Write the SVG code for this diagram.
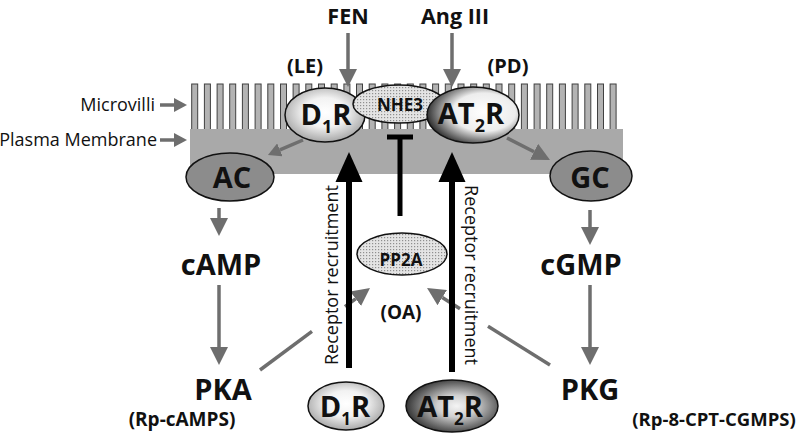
<svg xmlns="http://www.w3.org/2000/svg" width="800" height="438" viewBox="0 0 800 438">
<style>
text{font-family:"Open Sans","Liberation Sans",sans-serif;fill:#111}
.b{font-weight:bold}
.lab{font-size:18px}
.big{font-size:29px;font-weight:bold}
.ga{stroke:#6e6e6e;stroke-width:3.5;fill:none}
.bk{stroke:#000;stroke-width:6;fill:none}
.vil{fill:#b3b3b3;stroke:#404040;stroke-width:1}
.el{stroke:#111;stroke-width:1.5}
</style>
<defs>
<marker id="g" viewBox="0 -9 18 18" refX="0" refY="0" markerWidth="18" markerHeight="18" markerUnits="userSpaceOnUse" orient="auto"><path d="M0,-9 L18,0 L0,9 z" fill="#6e6e6e"/></marker>
<marker id="gs" viewBox="0 -7 13 14" refX="0" refY="0" markerWidth="13" markerHeight="14" markerUnits="userSpaceOnUse" orient="auto"><path d="M0,-7 L13,0 L0,7 z" fill="#6e6e6e"/></marker>
<marker id="bh" viewBox="0 -14 30 28" refX="0" refY="0" markerWidth="30" markerHeight="28" markerUnits="userSpaceOnUse" orient="auto"><path d="M0,-13.5 L30,0 L0,13.5 z" fill="#000"/></marker>
<pattern id="dots" width="3" height="3" patternUnits="userSpaceOnUse"><rect width="3" height="3" fill="#e4e4e4"/><rect x="0" y="0" width="1.2" height="1.2" fill="#8f8f8f"/></pattern>
<radialGradient id="gd1" cx="0.5" cy="0.45" r="0.6"><stop offset="0" stop-color="#fff"/><stop offset="0.45" stop-color="#f2f2f2"/><stop offset="1" stop-color="#9a9a9a"/></radialGradient>
<radialGradient id="gat" cx="0.62" cy="0.45" r="0.62"><stop offset="0" stop-color="#fff"/><stop offset="0.55" stop-color="#ededed"/><stop offset="1" stop-color="#333"/></radialGradient>
<radialGradient id="gat2" cx="0.55" cy="0.5" r="0.6"><stop offset="0" stop-color="#f4f4f4"/><stop offset="0.35" stop-color="#cfcfcf"/><stop offset="1" stop-color="#1e1e1e"/></radialGradient>
</defs>

<g id="labels-top">
<text x="348" y="24" class="b" font-size="21.5" text-anchor="middle">FEN</text>
<text x="455" y="24" class="b" font-size="21.5" text-anchor="middle">Ang III</text>
<text x="305" y="73" class="b" font-size="20" text-anchor="middle">(LE)</text>
<text x="508" y="73" class="b" font-size="20" text-anchor="middle">(PD)</text>
<text x="155" y="111" class="lab" text-anchor="end">Microvilli</text>
<text x="157" y="146" class="lab" text-anchor="end">Plasma Membrane</text>
</g>

<g id="microvilli">
<rect class="vil" x="191.7" y="84" width="6" height="46"/><rect class="vil" x="204.4" y="84" width="6" height="46"/><rect class="vil" x="217.1" y="84" width="6" height="46"/><rect class="vil" x="229.7" y="84" width="6" height="46"/><rect class="vil" x="242.4" y="84" width="6" height="46"/><rect class="vil" x="255.1" y="84" width="6" height="46"/><rect class="vil" x="267.8" y="84" width="6" height="46"/><rect class="vil" x="280.5" y="84" width="6" height="46"/><rect class="vil" x="293.1" y="84" width="6" height="46"/><rect class="vil" x="305.8" y="84" width="6" height="46"/><rect class="vil" x="318.5" y="84" width="6" height="46"/><rect class="vil" x="331.2" y="84" width="6" height="46"/><rect class="vil" x="343.9" y="84" width="6" height="46"/><rect class="vil" x="356.5" y="84" width="6" height="46"/><rect class="vil" x="369.2" y="84" width="6" height="46"/><rect class="vil" x="381.9" y="84" width="6" height="46"/><rect class="vil" x="394.6" y="84" width="6" height="46"/><rect class="vil" x="407.3" y="84" width="6" height="46"/><rect class="vil" x="419.9" y="84" width="6" height="46"/><rect class="vil" x="432.6" y="84" width="6" height="46"/><rect class="vil" x="445.3" y="84" width="6" height="46"/><rect class="vil" x="458" y="84" width="6" height="46"/><rect class="vil" x="470.7" y="84" width="6" height="46"/><rect class="vil" x="483.3" y="84" width="6" height="46"/><rect class="vil" x="496" y="84" width="6" height="46"/><rect class="vil" x="508.7" y="84" width="6" height="46"/><rect class="vil" x="521.4" y="84" width="6" height="46"/><rect class="vil" x="534.1" y="84" width="6" height="46"/><rect class="vil" x="546.7" y="84" width="6" height="46"/><rect class="vil" x="559.4" y="84" width="6" height="46"/><rect class="vil" x="572.1" y="84" width="6" height="46"/><rect class="vil" x="584.8" y="84" width="6" height="46"/><rect class="vil" x="597.5" y="84" width="6" height="46"/><rect class="vil" x="610.1" y="84" width="6" height="46"/>
</g>
<g id="membrane"><rect x="190" y="129" width="433" height="45" fill="#a9a9a9"/></g>

<g id="connectors">
<path class="ga" d="M348,33 V69" marker-end="url(#g)"/>
<path class="ga" d="M452,33 V69" marker-end="url(#g)"/>
<path class="ga" d="M160,105 H174" marker-end="url(#gs)"/>
<path class="ga" d="M160,140 H174" marker-end="url(#gs)"/>
<path class="ga" d="M303,140 L279.9,149.9" marker-end="url(#gs)"/>
<path class="ga" d="M507,138 L534,151.8" marker-end="url(#g)"/>
<path class="ga" d="M219,208 V218" marker-end="url(#g)"/>
<path class="ga" d="M219,285 V347" marker-end="url(#g)"/>
<path class="ga" d="M590,210 V227" marker-end="url(#g)"/>
<path class="ga" d="M590,285 V347" marker-end="url(#g)"/>
<path class="ga" d="M260,370 L312,331.3"/>
<path class="ga" d="M345,306.7 L355.6,298.8" marker-end="url(#g)"/>
<path class="ga" d="M550,365 L488,326.2"/>
<path class="ga" d="M460,308.7 L442.3,297.6" marker-end="url(#g)"/>
<path class="bk" d="M349,368 V182" marker-end="url(#bh)"/>
<path class="bk" d="M452,372 V182" marker-end="url(#bh)"/>
<path d="M400,216 V137 M387,137 H413" stroke="#000" stroke-width="5" fill="none"/>
<text transform="translate(338,365) rotate(-90)" font-size="18">Receptor recruitment</text>
<text transform="translate(465,365) rotate(90)" font-size="18" text-anchor="end">Receptor recruitment</text>
</g>

<g id="D1R-top">
<ellipse class="el" cx="325" cy="115" rx="40" ry="27" fill="url(#gd1)"/>
<text x="326" y="125" class="big" font-size="28" text-anchor="middle">D<tspan font-size="18" dy="8">1</tspan><tspan dy="-8">R</tspan></text>
</g>
<g id="NHE3">
<ellipse class="el" cx="399" cy="104" rx="46" ry="19" fill="url(#dots)"/>
<text x="400" y="111" class="b" font-size="17" text-anchor="middle">NHE3</text>
</g>
<g id="AT2R-top">
<ellipse class="el" cx="473" cy="115" rx="46" ry="28" fill="url(#gat)"/>
<text x="471" y="124" class="big" text-anchor="middle">AT<tspan font-size="18" dy="8">2</tspan><tspan dy="-8">R</tspan></text>
</g>
<g id="AC">
<ellipse class="el" cx="230" cy="177" rx="44" ry="24" fill="#8c8c8c"/>
<text x="232" y="188" class="big" text-anchor="middle">AC</text>
</g>
<g id="GC">
<ellipse class="el" cx="591" cy="176" rx="41" ry="25" fill="#8c8c8c"/>
<text x="590" y="188" class="big" text-anchor="middle">GC</text>
</g>
<g id="cAMP"><text x="221" y="275" class="big" font-size="30" text-anchor="middle">cAMP</text></g>
<g id="cGMP"><text x="581" y="275" class="big" font-size="30" text-anchor="middle">cGMP</text></g>
<g id="PP2A">
<ellipse class="el" cx="402" cy="254" rx="45" ry="21" fill="url(#dots)"/>
<text x="401" y="266" class="b" font-size="17" text-anchor="middle">PP2A</text>
</g>
<g id="OA"><text x="401" y="319" class="b" font-size="19" text-anchor="middle">(OA)</text></g>
<g id="PKA">
<text x="223" y="400" class="big" font-size="31" text-anchor="middle">PKA</text>
<text x="182" y="426" class="b" font-size="19" text-anchor="middle">(Rp-cAMPS)</text>
</g>
<g id="PKG">
<text x="590" y="400" class="big" font-size="30" text-anchor="middle">PKG</text>
<text x="714" y="426" class="b" font-size="18.5" text-anchor="middle">(Rp-8-CPT-CGMPS)</text>
</g>
<g id="D1R-bottom">
<ellipse class="el" cx="346" cy="406" rx="38" ry="24" fill="url(#gd1)"/>
<text x="345" y="417" class="big" font-size="27" text-anchor="middle">D<tspan font-size="17" dy="8">1</tspan><tspan dy="-8">R</tspan></text>
</g>
<g id="AT2R-bottom">
<ellipse class="el" cx="452" cy="406" rx="46" ry="26" fill="url(#gat2)"/>
<text x="450" y="417" class="big" font-size="27" text-anchor="middle">AT<tspan font-size="17" dy="8">2</tspan><tspan dy="-8">R</tspan></text>
</g>
</svg>
